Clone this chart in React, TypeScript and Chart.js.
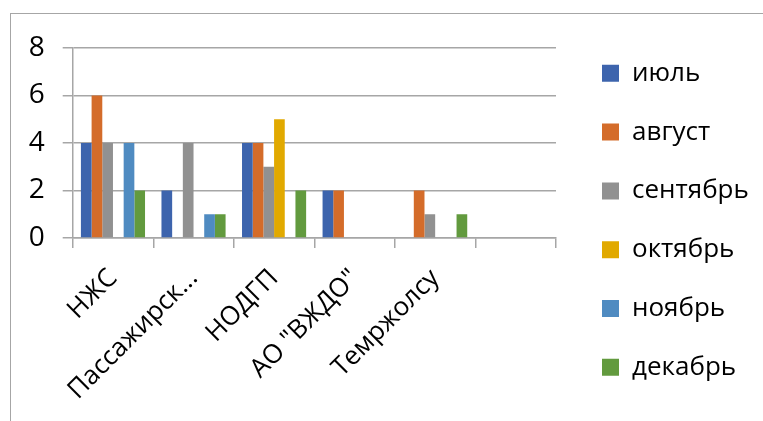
import React, { useEffect, useRef } from "react";
import { Chart, registerables } from "chart.js";

Chart.register(...registerables);

// ---- data ----
const categories = ["НЖС", "Пассажирск...", "НОДГП", "АО \"ВЖДО\"", "Темржолсу", ""];
const seriesNames = ["июль", "август", "сентябрь", "октябрь", "ноябрь", "декабрь"];
const julyValues = [4, 2, 4, 2, 0, 0];
const augustValues = [6, 0, 4, 2, 2, 0];
const septemberValues = [4, 4, 3, 0, 1, 0];
const octoberValues = [0, 0, 5, 0, 0, 0];
const novemberValues = [4, 1, 0, 0, 0, 0];
const decemberValues = [2, 1, 2, 0, 1, 0];
const yMin = 0;
const yMax = 8;
const yStep = 2;

// ---- style ----
const seriesColors = ["#3D64AD", "#D46C2A", "#919191", "#E1A900", "#4F8BC1", "#629A3E"];
const gridColor = "#A6A6A6";
const FONT = "'Open Sans', 'Noto Sans', sans-serif";

const legendNudge = {
  id: "legendNudge",
  afterLayout(chart: any) {
    const lg = chart.legend;
    if (!lg) return;
    const dx = 13.2;
    const dy = 9.8;
    lg.left += dx;
    lg.right += dx;
    lg.top += dy;
    lg.bottom += dy;
  },
};

export default function App() {
  const canvasRef = useRef<HTMLCanvasElement | null>(null);

  useEffect(() => {
    if (!canvasRef.current) return;
    const seriesValues = [
      julyValues,
      augustValues,
      septemberValues,
      octoberValues,
      novemberValues,
      decemberValues,
    ];
    const chart = new Chart(canvasRef.current, {
      type: "bar",
      data: {
        labels: categories,
        datasets: seriesNames.map((name, i) => ({
          label: name,
          data: seriesValues[i],
          backgroundColor: seriesColors[i],
          borderWidth: 0,
          categoryPercentage: 0.796,
          barPercentage: 1,
        })),
      },
      options: {
        animation: false,
        responsive: true,
        maintainAspectRatio: false,
        events: [],
        layout: { padding: 0 },
        font: { family: FONT },
        plugins: {
          tooltip: { enabled: false },
          title: { display: false },
          legend: {
            display: true,
            position: "right",
            align: "center",
            labels: {
              boxWidth: 17,
              boxHeight: 17,
              padding: 32.8,
              color: "#000",
              font: { family: FONT, size: 26 },
            },
          },
        },
        scales: {
          x: {
            offset: true,
            grid: {
              display: true,
              drawOnChartArea: false,
              drawTicks: true,
              tickLength: 10,
              color: gridColor,
              lineWidth: 1.5,
              offset: true,
            },
            border: { display: true, color: gridColor, width: 1.5 },
            ticks: {
              autoSkip: false,
              minRotation: 45,
              maxRotation: 45,
              padding: 15,
              color: "#000",
              font: { family: FONT, size: 26 },
            },
            afterFit(scale: any) {
              scale.height = 183;
              scale.paddingLeft = 0;
              scale.paddingRight = 207;
            },
          },
          y: {
            min: yMin,
            max: yMax,
            grid: {
              display: true,
              drawOnChartArea: true,
              drawTicks: true,
              tickLength: 10,
              color: gridColor,
              lineWidth: 1.5,
            },
            border: { display: true, color: gridColor, width: 1.5 },
            ticks: {
              stepSize: yStep,
              padding: 18,
              color: "#000",
              font: { family: FONT, size: 28 },
            },
            afterFit(scale: any) {
              scale.width = 72.7;
              scale.paddingTop = 48;
              scale.paddingBottom = 0;
            },
          },
        },
      },
      plugins: [legendNudge],
    });
    return () => chart.destroy();
  }, []);

  return (
    <div
      style={{
        position: "absolute",
        left: 0,
        top: 0,
        width: 763,
        height: 421,
        overflow: "hidden",
        background: "#fff",
      }}
    >
      <div
        style={{
          position: "absolute",
          left: 10,
          top: 13,
          width: 900,
          height: 600,
          border: "1px solid #A6A6A6",
        }}
      />
      <div style={{ position: "absolute", left: 0, top: 0, width: 763, height: 421 }}>
        <canvas ref={canvasRef} />
      </div>
    </div>
  );
}
